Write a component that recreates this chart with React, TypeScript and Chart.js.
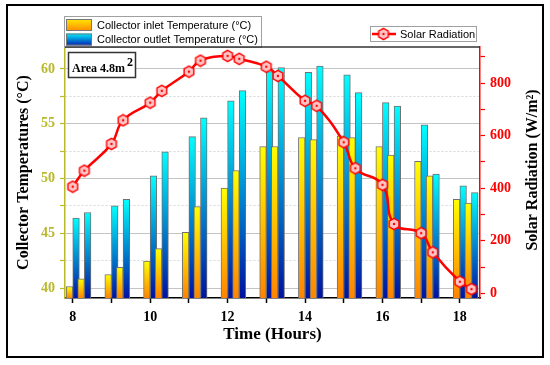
import React, { useEffect, useRef } from 'react';
import { Chart, registerables } from 'chart.js';

Chart.register(...registerables);

const times = [8, 8.3, 9, 9.3, 10, 10.3, 11, 11.3, 12, 12.3, 13, 13.3, 14, 14.3, 15, 15.3, 16, 16.3, 17, 17.3, 18, 18.3];
const inletTemp = [40.15, 40.85, 41.24, 41.9, 42.46, 43.6, 45.1, 47.44, 49.12, 50.73, 52.92, 52.92, 53.74, 53.55, 53.89, 53.74, 52.92, 52.13, 51.58, 50.24, 48.11, 47.75];
const outletTemp = [46.4, 46.9, 47.5, 48.1, 50.24, 52.43, 53.83, 55.53, 57.08, 58.02, 59.76, 60.12, 59.7, 60.25, 59.45, 57.84, 56.93, 56.6, 54.9, 50.4, 49.33, 48.72];
const solarRadiation = [406, 467, 569, 659, 726, 771, 844, 886, 904, 893, 863, 828, 733, 714, 575, 476, 413, 264, 229, 156, 44, 16];

const inletLabel = 'Collector inlet Temperature (°C)';
const outletLabel = 'Collector outlet Temperature (°C)';
const solarLabel = 'Solar Radiation';
const leftTitle = 'Collector Temperatures (°C)';
const rightTitle = 'Solar Radiation (W/m²)';
const xTitle = 'Time (Hours)';
const areaText = 'Area 4.8m';
const areaSup = '2';

const SERIF = '"Liberation Serif", "Times New Roman", serif';
const SANS = '"Liberation Sans", Arial, sans-serif';
const OLIVE = '#B9B92C';
const RED = '#FF0000';

function makeHex(): HTMLCanvasElement {
  const c = document.createElement('canvas');
  c.width = 14;
  c.height = 14;
  const g = c.getContext('2d')!;
  const r = 5.6;
  g.beginPath();
  for (let k = 0; k < 6; k++) {
    const a = (-90 + k * 60) * Math.PI / 180;
    const px = 7 + r * Math.cos(a);
    const py = 7 + r * Math.sin(a);
    if (k === 0) g.moveTo(px, py); else g.lineTo(px, py);
  }
  g.closePath();
  g.fillStyle = '#FFC4C4';
  g.fill();
  g.lineWidth = 1.4;
  g.strokeStyle = RED;
  g.stroke();
  g.beginPath();
  g.arc(7, 7, 1.2, 0, Math.PI * 2);
  g.fillStyle = RED;
  g.fill();
  return c;
}

function barGradient(top: string, bottom: string) {
  return (ctx: any) => {
    const chart = ctx.chart;
    const area = chart.chartArea;
    if (!area || ctx.type !== 'data' || !ctx.raw) return top;
    const yTop = chart.scales.y.getPixelForValue(ctx.raw.y);
    const g = chart.ctx.createLinearGradient(0, yTop, 0, area.bottom);
    g.addColorStop(0, top);
    g.addColorStop(1, bottom);
    return g;
  };
}

export default function App() {
  const ref = useRef<HTMLCanvasElement>(null);

  useEffect(() => {
    if (!ref.current) return;
    const hex = makeHex();

    const decor = {
      id: 'decor',
      afterDraw(chart: any) {
        const c = chart.ctx as CanvasRenderingContext2D;
        const a = chart.chartArea;
        c.save();

        // Temperature legend
        c.fillStyle = '#FFFFFF';
        c.fillRect(64.5, 16.5, 197, 31);
        c.strokeStyle = '#A0A0A0';
        c.lineWidth = 1;
        c.strokeRect(64.5, 16.5, 197, 31);
        const sw = (y: number, top: string, bot: string) => {
          const g = c.createLinearGradient(0, y, 0, y + 12);
          g.addColorStop(0, top);
          g.addColorStop(1, bot);
          c.fillStyle = g;
          c.fillRect(66, y, 26, 12);
          c.strokeStyle = '#777';
          c.strokeRect(66.5, y + 0.5, 25, 11);
        };
        sw(19, '#FFE800', '#FF8A00');
        sw(33.5, '#00F0FF', '#0020B0');
        c.fillStyle = '#000';
        c.font = `11px ${SANS}`;
        c.textBaseline = 'middle';
        c.textAlign = 'left';
        c.fillText(inletLabel, 97, 25.5);
        c.fillText(outletLabel, 97, 40);

        // Solar legend
        c.fillStyle = '#FFFFFF';
        c.fillRect(370.5, 26.5, 106, 15);
        c.strokeStyle = '#A0A0A0';
        c.strokeRect(370.5, 26.5, 106, 15);
        c.strokeStyle = RED;
        c.lineWidth = 2.5;
        c.beginPath();
        c.moveTo(372, 34);
        c.lineTo(396, 34);
        c.stroke();
        c.drawImage(hex, 383.5 - 7, 34 - 7);
        c.fillStyle = '#000';
        c.font = `11px ${SANS}`;
        c.fillText(solarLabel, 400, 34.5);

        // Area box
        c.fillStyle = '#FFFFFF';
        c.fillRect(68.5, 52.5, 67, 25);
        c.strokeStyle = '#333';
        c.lineWidth = 1.5;
        c.strokeRect(68.5, 52.5, 67, 25);
        c.fillStyle = '#000';
        c.textBaseline = 'alphabetic';
        c.font = `bold 12px ${SERIF}`;
        c.fillText(areaText, 72, 71.5);
        const w = c.measureText(areaText).width;
        c.font = `bold 12px ${SERIF}`;
        c.fillText(areaSup, 72 + w + 2, 66);

        // plot top line
        c.strokeStyle = '#333';
        c.lineWidth = 1.5;
        c.beginPath();
        c.moveTo(a.left, a.top);
        c.lineTo(a.right, a.top);
        c.stroke();

        // right title
        c.save();
        c.translate(533, 170);
        c.rotate(-Math.PI / 2);
        c.font = `bold 16px ${SERIF}`;
        c.fillStyle = '#000';
        c.textAlign = 'center';
        c.textBaseline = 'middle';
        c.fillText(rightTitle, 0, 0);
        c.restore();

        // outer frame
        c.strokeStyle = '#000';
        c.lineWidth = 2;
        c.strokeRect(7, 5, 536, 352);
        c.restore();
      },
    };

    const chart = new Chart(ref.current, {
      type: 'bar',
      data: {
        datasets: [
          {
            type: 'line',
            label: solarLabel,
            data: times.map((t, i) => ({ x: t, y: solarRadiation[i] })),
            xAxisID: 'x',
            yAxisID: 'y1',
            borderColor: RED,
            borderWidth: 2.5,
            tension: 0.45,
            pointStyle: hex as any,
            pointRadius: 6,
            order: 0,
          } as any,
          {
            type: 'bar',
            label: inletLabel,
            data: times.map((t, i) => ({ x: t, y: inletTemp[i] })),
            xAxisID: 'x',
            yAxisID: 'y',
            backgroundColor: barGradient('#FFFF00', '#FF8400'),
            borderColor: '#707070',
            borderWidth: 1,
            barThickness: 6.6,
            order: 1,
          } as any,
          {
            type: 'bar',
            label: outletLabel,
            data: times.map((t, i) => ({ x: t, y: outletTemp[i] })),
            xAxisID: 'x',
            yAxisID: 'y',
            backgroundColor: barGradient('#00FFFF', '#0012A0'),
            borderColor: '#707070',
            borderWidth: 1,
            barThickness: 6.6,
            order: 2,
          } as any,
        ],
      },
      options: {
        responsive: false,
        animation: false,
        events: [],
        layout: { padding: { top: 47, left: 0, right: 0, bottom: 0 } },
        plugins: {
          legend: { display: false },
          tooltip: { enabled: false },
        },
        scales: {
          x: {
            type: 'linear',
            position: 'bottom',
            offset: false,
            min: 7.8,
            max: 18.52,
            afterFit: (s: any) => { s.height = 67; },
            ticks: {
              stepSize: 1,
              autoSkip: false,
              includeBounds: false,
              maxRotation: 0,
              padding: 6,
              color: '#000',
              font: { family: SERIF, size: 14, weight: 'bold' },
              callback: (v: any) => (Number(v) % 2 === 0 ? String(v) : ''),
            },
            grid: { offset: false, drawOnChartArea: false, tickLength: 5, tickColor: '#000', tickWidth: 1.5 },
            border: { color: '#000', width: 1.5 },
            title: {
              display: true,
              text: xTitle,
              color: '#000',
              font: { family: SERIF, size: 17, weight: 'bold' },
              padding: { top: 0, bottom: 20 },
            },
          },
          y: {
            type: 'linear',
            position: 'left',
            min: 39.1,
            max: 62.0,
            afterFit: (s: any) => { s.width = 65; },
            ticks: {
              stepSize: 2.5,
              includeBounds: false,
              padding: 5,
              color: OLIVE,
              font: { family: SERIF, size: 14, weight: 'bold' },
              callback: (v: any) => (Number(v) % 5 === 0 ? String(v) : ''),
            },
            grid: {
              color: (ctx: any) => (ctx.tick && ctx.tick.value % 5 === 0 ? '#C4C4C4' : '#D8D8D8'),
              lineWidth: 1,
              tickLength: 5,
              tickColor: OLIVE,
              tickWidth: 1.2,
            },
            border: {
              color: OLIVE,
              width: 1.5,
              dash: (ctx: any) => (ctx.tick && ctx.tick.value % 5 !== 0 ? [2, 2] : []),
            },
            title: {
              display: true,
              text: leftTitle,
              color: '#000',
              font: { family: SERIF, size: 16, weight: 'bold' },
              padding: { top: 14, bottom: 0 },
            },
          },
          y1: {
            type: 'linear',
            position: 'right',
            min: -18,
            max: 938,
            afterFit: (s: any) => { s.width = 70; },
            ticks: {
              stepSize: 100,
              includeBounds: false,
              padding: 5,
              color: RED,
              font: { family: SERIF, size: 14, weight: 'bold' },
              callback: (v: any) => (Number(v) % 200 === 0 ? String(v) : ''),
            },
            grid: { drawOnChartArea: false, tickLength: 5, tickColor: RED, tickWidth: 1.2 },
            border: { color: RED, width: 1.5 },
          },
        },
      } as any,
      plugins: [decor],
    });

    return () => chart.destroy();
  }, []);

  return (
    <div style={{ position: 'absolute', left: 0, top: 0, width: 550, height: 365, background: '#fff' }}>
      <canvas ref={ref} width={550} height={365} style={{ display: 'block', width: 550, height: 365 }} />
    </div>
  );
}
